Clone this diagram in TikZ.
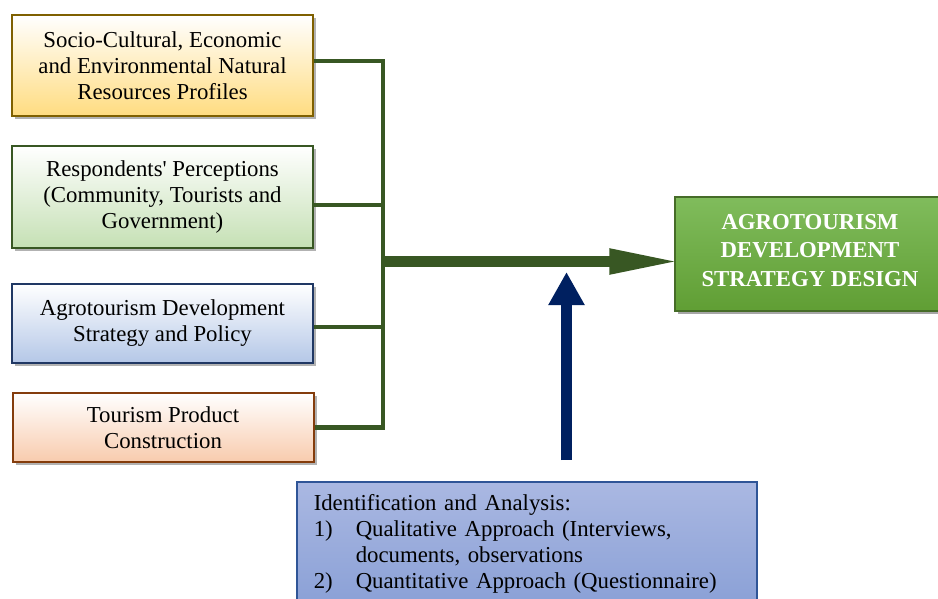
\documentclass[tikz,border=0pt]{standalone}
\usepackage{fontspec}
\setmainfont{Liberation Serif}
\usetikzlibrary{arrows.meta,shadows}

\definecolor{goldline}{RGB}{127,96,0}
\definecolor{goldfill}{RGB}{255,220,128}
\definecolor{leafline}{RGB}{56,87,35}
\definecolor{leaffill}{RGB}{197,224,180}
\definecolor{navyline}{RGB}{32,56,100}
\definecolor{navyfill}{RGB}{180,199,231}
\definecolor{rustline}{RGB}{132,60,12}
\definecolor{rustfill}{RGB}{248,203,173}
\definecolor{goaltop}{RGB}{128,188,92}
\definecolor{goalbot}{RGB}{96,158,52}
\definecolor{goalline}{RGB}{70,108,40}
\definecolor{pushblue}{RGB}{0,32,96}
\definecolor{anatop}{RGB}{170,184,226}
\definecolor{anabot}{RGB}{138,160,214}
\definecolor{analine}{RGB}{47,85,151}

\begin{document}
\begin{tikzpicture}[x=1pt,y=-1pt,font=\fontsize{22.8}{26}\selectfont,
                input node/.style={rectangle,draw,line width=2pt,minimum width=301pt,
                  align=center,inner sep=2pt,top color=white,
                  drop shadow={shadow xshift=3pt,shadow yshift=-3pt,fill=black,opacity=0.3}},
                goal node/.style={rectangle,draw=goalline,line width=1.5pt,top color=goaltop,
                  bottom color=goalbot,text=white,align=center,minimum width=270pt,
                  minimum height=114pt,font=\bfseries\fontsize{22.8}{28.5}\selectfont,
                  drop shadow={shadow xshift=3pt,shadow yshift=-3pt,fill=black,opacity=0.35}},
                ana node/.style={rectangle,draw=analine,line width=1.5pt,top color=anatop,
                  bottom color=anabot,align=left,text width=426pt,inner xsep=17pt,
                  inner ysep=13pt,anchor=north west},
                bus/.style={draw=leafline,line width=4.5pt},
                flow/.style={draw=leafline,line width=11pt,-{Triangle[length=73pt,width=23pt]}},
                push/.style={draw=pushblue,line width=11pt,-{Triangle[length=33pt,width=34pt]}}]
	\useasboundingbox (0,0) rectangle (938,599);
	\clip (0,0) rectangle (938,599);

	\node[input node,draw=goldline,bottom color=goldfill,minimum height=101pt] (1) at (162.5,65.5)
		{Socio-Cultural, Economic\\and Environmental Natural\\Resources Profiles};
	\node[input node,draw=leafline,bottom color=leaffill,minimum height=102pt] (2) at (162.5,197)
		{Respondents\textquotesingle{} Perceptions\\(Community, Tourists and\\Government)};
	\node[input node,draw=navyline,bottom color=navyfill,minimum height=79pt] (3) at (162.5,323.5)
		{Agrotourism Development\\Strategy and Policy};
	\node[input node,draw=rustline,bottom color=rustfill,minimum height=69pt] (4) at (163,427.5)
		{Tourism Product\\Construction};
	\node[goal node] (5) at (810,254) {AGROTOURISM\\DEVELOPMENT\\STRATEGY DESIGN\rule[-8pt]{0pt}{8pt}};
	\node[ana node] (6) at (296,481)
		{Identification and Analysis:\\
		\makebox[42pt][l]{1)}Qualitative Approach (Interviews,\\
		\hspace*{42pt}documents, observations\\
		\makebox[42pt][l]{2)}Quantitative Approach (Questionnaire)};

	\coordinate (j) at (383,261.5);
	\coordinate (t) at (566.5,272);

	% branches from the four boxes into the bus
	\draw[bus] ([yshift=4.5pt]1.east) -| (j |- 4.east) -- (4.east);
	\path
	([yshift=-8pt]2.east) edge [bus] ([yshift=-8pt]2.east -| j)
	([yshift=-3.5pt]3.east) edge [bus] ([yshift=-3.5pt]3.east -| j)
	(j) edge [flow,shorten >=-8pt] (j -| 5.west)
	(6.north -| t) edge [push,shorten <=21pt] (t)
;
\end{tikzpicture}
\end{document}
